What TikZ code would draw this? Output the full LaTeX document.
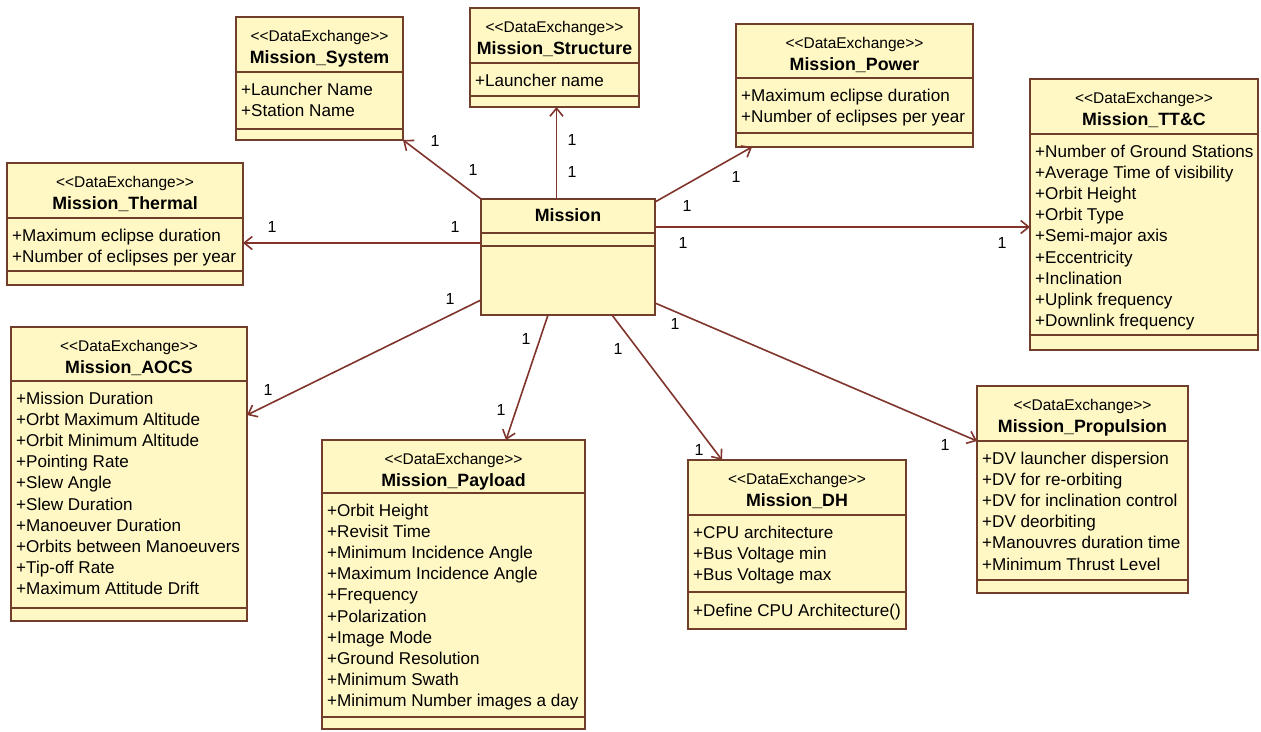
\documentclass[tikz,border=0pt]{standalone}
\usepackage{fontspec}
\setmainfont{Liberation Sans}
\usetikzlibrary{arrows.meta}
\definecolor{boxfill}{RGB}{255,248,196}
\definecolor{boxline}{RGB}{112,62,42}
\definecolor{linkcol}{RGB}{128,52,44}
\tikzset{
 classbox/.style={draw=boxline, fill=boxfill, line width=1.8pt, inner sep=0pt, outer sep=0pt, rectangle},
 sepline/.style={draw=boxline, line width=1.8pt},
 stereo/.style={font=\fontsize{15.5}{18}\selectfont, inner sep=0pt, anchor=base},
 ctitle/.style={font=\fontsize{17.8}{20}\selectfont\bfseries, inner sep=0pt, anchor=base},
 attr/.style={font=\fontsize{17.1}{20}\selectfont, inner sep=0pt, anchor=base west},
 assoc/.style={draw=linkcol, line width=1.6pt, -{Straight Barb[length=8pt,width=13pt]}},
 mult/.style={font=\fontsize{16}{18}\selectfont, inner sep=0pt},
}
\newcommand\umlclass[9]{%
 \node[classbox, anchor=north west, minimum width={#4-#2}, minimum height={#5-#3}] (#1) at (#2,#3) {};
 \draw[sepline] (#2,#6) -- (#4,#6);
 \draw[sepline] (#2,#7) -- (#4,#7);
 \node[stereo] (#1-st) at ({(#2+#4)/2},{#3+24}) {<{}<DataExchange>{}>};
 \node[ctitle] (#1-ti) at ({(#2+#4)/2},{#3+46}) {#8};
 \foreach \t [count=\i from 0] in {#9} {
   \node[attr] (#1-a\i) at ({#2+5},{#6+23+21.2*\i}) {\t};
 }
}
\begin{document}
\begin{tikzpicture}[x=1pt,y=-1pt]
\useasboundingbox[fill=white] (0,0) rectangle (1261,731);

\umlclass{system}{236}{17}{403}{140}{72}{129}{Mission\_System}{+Launcher Name,+Station Name}
\umlclass{structure}{470}{8}{639}{107}{63}{96}{Mission\_Structure}{+Launcher name}
\umlclass{power}{736}{24}{973}{147}{78}{133}{Mission\_Power}{+Maximum eclipse duration,+Number of eclipses per year}
\umlclass{ttc}{1030}{79}{1258}{350}{134}{335}{Mission\_TT\&C}{+Number of Ground Stations,+Average Time of visibility,+Orbit Height,+Orbit Type,+Semi-major axis,+Eccentricity,+Inclination,+Uplink frequency,+Downlink frequency}
\umlclass{thermal}{7}{163}{243}{285}{218}{271}{Mission\_Thermal}{+Maximum eclipse duration,+Number of eclipses per year}
\umlclass{aocs}{11}{327}{247}{621}{381}{608}{Mission\_AOCS}{+Mission Duration,+Orbt Maximum Altitude,+Orbit Minimum Altitude,+Pointing Rate,+Slew Angle,+Slew Duration,+Manoeuver Duration,+Orbits between Manoeuvers,+Tip-off Rate,+Maximum Attitude Drift}
\umlclass{payload}{322}{440}{585}{729}{493}{717}{Mission\_Payload}{+Orbit Height,+Revisit Time,+Minimum Incidence Angle,+Maximum Incidence Angle,+Frequency,+Polarization,+Image Mode,+Ground Resolution,+Minimum Swath,+Minimum Number images a day}
\umlclass{dh}{688}{460}{906}{629}{515}{592}{Mission\_DH}{+CPU architecture,+Bus Voltage min,+Bus Voltage max}
\node[attr] (dh-m) at (693,616) {+Define CPU Architecture()};
\umlclass{propulsion}{977}{386}{1188}{593}{441}{580}{Mission\_Propulsion}{+DV launcher dispersion,+DV for re-orbiting,+DV for inclination control,+DV deorbiting,+Manouvres duration time,+Minimum Thrust Level}

% central class
\node[classbox, anchor=north west, minimum width=174, minimum height=116] (mission) at (481,199) {};
\draw[sepline] (481,233) -- (655,233);
\draw[sepline] (481,246) -- (655,246);
\node[ctitle] (mission-ti) at (568,221) {Mission};

% associations
\coordinate (mT) at ([yshift=30pt]mission.east);
\coordinate (mTh) at ([yshift=14pt]mission.west);
\draw[assoc] (mission.north west) -- (system.south east);
\draw[assoc] ([xshift=2pt]structure.south |- mission.north) -- ([xshift=2pt]structure.south);
\draw[assoc] ([yshift=-3pt]mission.north east) -- ([xshift=16pt]power.south west);
\draw[assoc] (mT) -- (mT -| ttc.west);
\draw[assoc] (mTh) -- (mTh -| thermal.east);
\draw[assoc] ([yshift=-43pt]mission.west) -- ([yshift=59pt]aocs.east);
\draw[assoc] ([xshift=-20pt]mission.south) -- ([xshift=52.5pt]payload.north);
\draw[assoc] ([xshift=44pt]mission.south) -- ([xshift=-75pt]dh.north);
\draw[assoc] ([yshift=-46pt]mission.east) -- ([yshift=-55pt]propulsion.north west);

% multiplicities
\node[mult] (m1) at (435,141) {1};
\node[mult] (m2) at (473,170) {1};
\node[mult] (m3) at (572,140) {1};
\node[mult] (m4) at (572,172) {1};
\node[mult] (m5) at (736,177) {1};
\node[mult] (m6) at (687,206) {1};
\node[mult] (m7) at (683,243) {1};
\node[mult] (m8) at (1002,243) {1};
\node[mult] (m9) at (272,227) {1};
\node[mult] (m10) at (455,227) {1};
\node[mult] (m11) at (450,299) {1};
\node[mult] (m12) at (268,390) {1};
\node[mult] (m13) at (526,339) {1};
\node[mult] (m14) at (501,410) {1};
\node[mult] (m15) at (618,349) {1};
\node[mult] (m16) at (699,450) {1};
\node[mult] (m17) at (675,324) {1};
\node[mult] (m18) at (945,445) {1};
\end{tikzpicture}
\end{document}
